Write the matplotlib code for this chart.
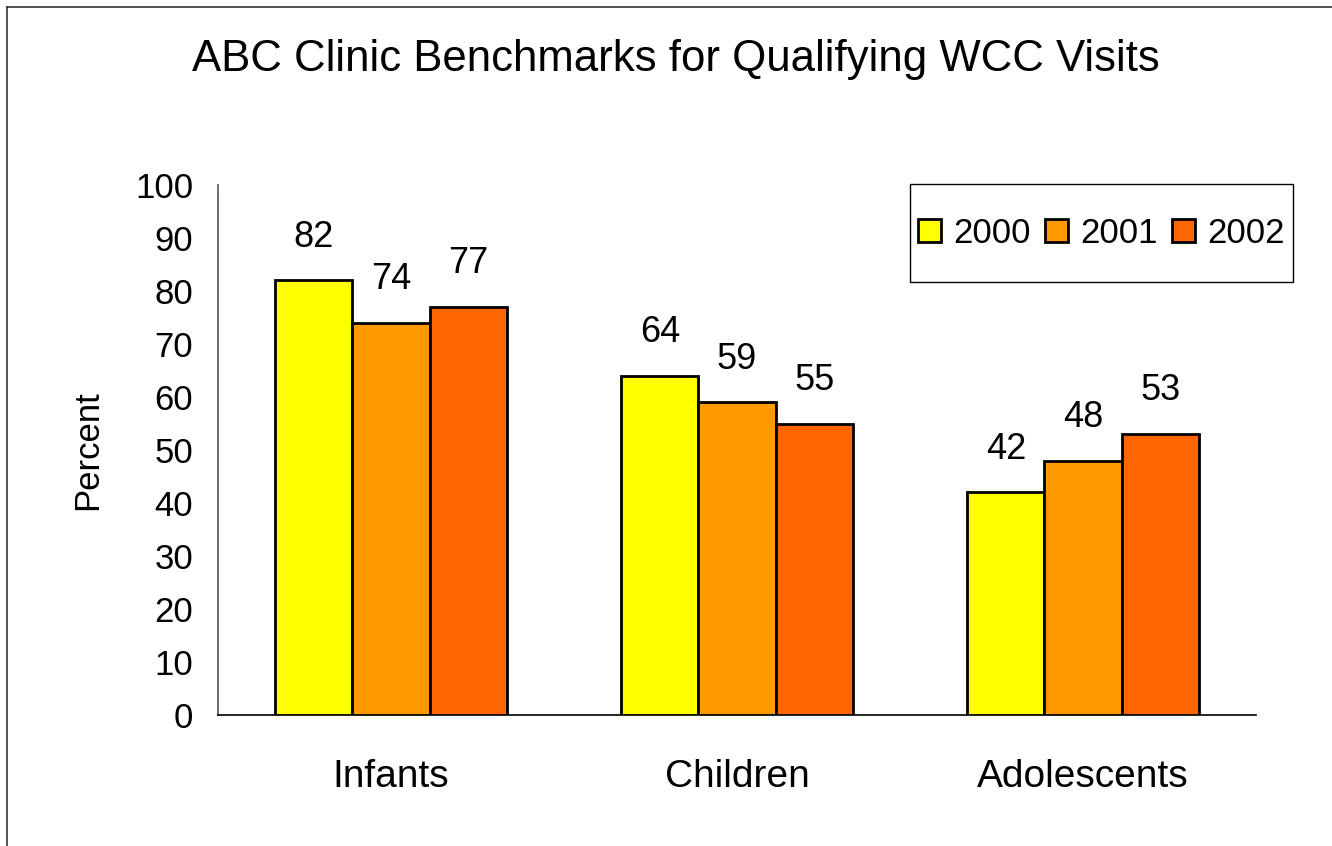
import matplotlib
matplotlib.use("Agg")
import matplotlib.pyplot as plt
from matplotlib.lines import Line2D
from matplotlib.patches import Rectangle
import numpy as np

categories = ["Infants", "Children", "Adolescents"]
years = ["2000", "2001", "2002"]
values_2000 = [82, 64, 42]
values_2001 = [74, 59, 48]
values_2002 = [77, 55, 53]
colors = ["#FFFF00", "#FF9900", "#FF6600"]
yticks = [0, 10, 20, 30, 40, 50, 60, 70, 80, 90, 100]

plt.rcParams['font.family'] = ['Liberation Sans', 'DejaVu Sans']

W, H = 1332, 846
fig = plt.figure(figsize=(W / 100, H / 100), dpi=100)
ax = fig.add_axes([218 / W, 1 - 715 / H, (1256 - 218) / W, (715 - 185) / H])

series = [values_2000, values_2001, values_2002]
x = np.arange(len(categories))
bw = 0.223
for i, (vals, c, yr) in enumerate(zip(series, colors, years)):
    pos = x + (i - 1) * bw
    ax.bar(pos, vals, width=bw, color=c, edgecolor="black", linewidth=2, label=yr, zorder=3)
    for p, v in zip(pos, vals):
        ax.annotate(str(v), (p, v), xytext=(0, 18.5), textcoords="offset points",
                    ha="center", va="bottom", fontsize=26)

ax.set_xlim(-0.5, 2.5)
ax.set_ylim(0, 100)
ax.set_yticks(yticks)
ax.set_yticklabels([str(t) for t in yticks], fontsize=25)
ax.set_xticks(x)
ax.set_xticklabels(categories, fontsize=28)
ax.tick_params(axis="y", length=0, pad=18)
ax.tick_params(axis="x", length=0, pad=32)
for s in ["top", "right"]:
    ax.spines[s].set_visible(False)
ax.spines["left"].set_color("#555555")
ax.spines["bottom"].set_color("black")
ax.spines["left"].set_linewidth(1.2)
ax.spines["bottom"].set_linewidth(1.2)
ax.set_ylabel("Percent", fontsize=25, labelpad=22)

# Legend frame drawn manually
def ax_x(px):
    return (px - 218) / (1256 - 218)

def ax_y(py):
    return (715 - py) / (715 - 185)

x0, x1, y0, y1 = ax_x(910), ax_x(1293), ax_y(282), ax_y(184)
frame = Rectangle((x0, y0), x1 - x0, y1 - y0, transform=ax.transAxes, fill=True,
                  facecolor="white", edgecolor="black", linewidth=1.0, clip_on=False, zorder=4)
ax.add_patch(frame)
leg = ax.legend(ncol=3, loc="center", bbox_to_anchor=((x0 + x1) / 2, (y0 + y1) / 2),
                fontsize=25, frameon=False,
                handlelength=0.65, handleheight=0.65, handletextpad=0.36, columnspacing=0.42,
                borderpad=0, borderaxespad=0)
leg.set_zorder(5)

fig.text(676 / W, 1 - 60 / H, "ABC Clinic Benchmarks for Qualifying WCC Visits",
         ha="center", va="center", fontsize=31.5)

# Outer border lines (top and left)
fig.add_artist(Line2D([7 / W, 1], [1 - 7 / H, 1 - 7 / H], color="#333333", linewidth=1.2, transform=fig.transFigure))
fig.add_artist(Line2D([7 / W, 7 / W], [0, 1 - 7 / H], color="#333333", linewidth=1.2, transform=fig.transFigure))

fig.savefig("out.png", dpi=100)
